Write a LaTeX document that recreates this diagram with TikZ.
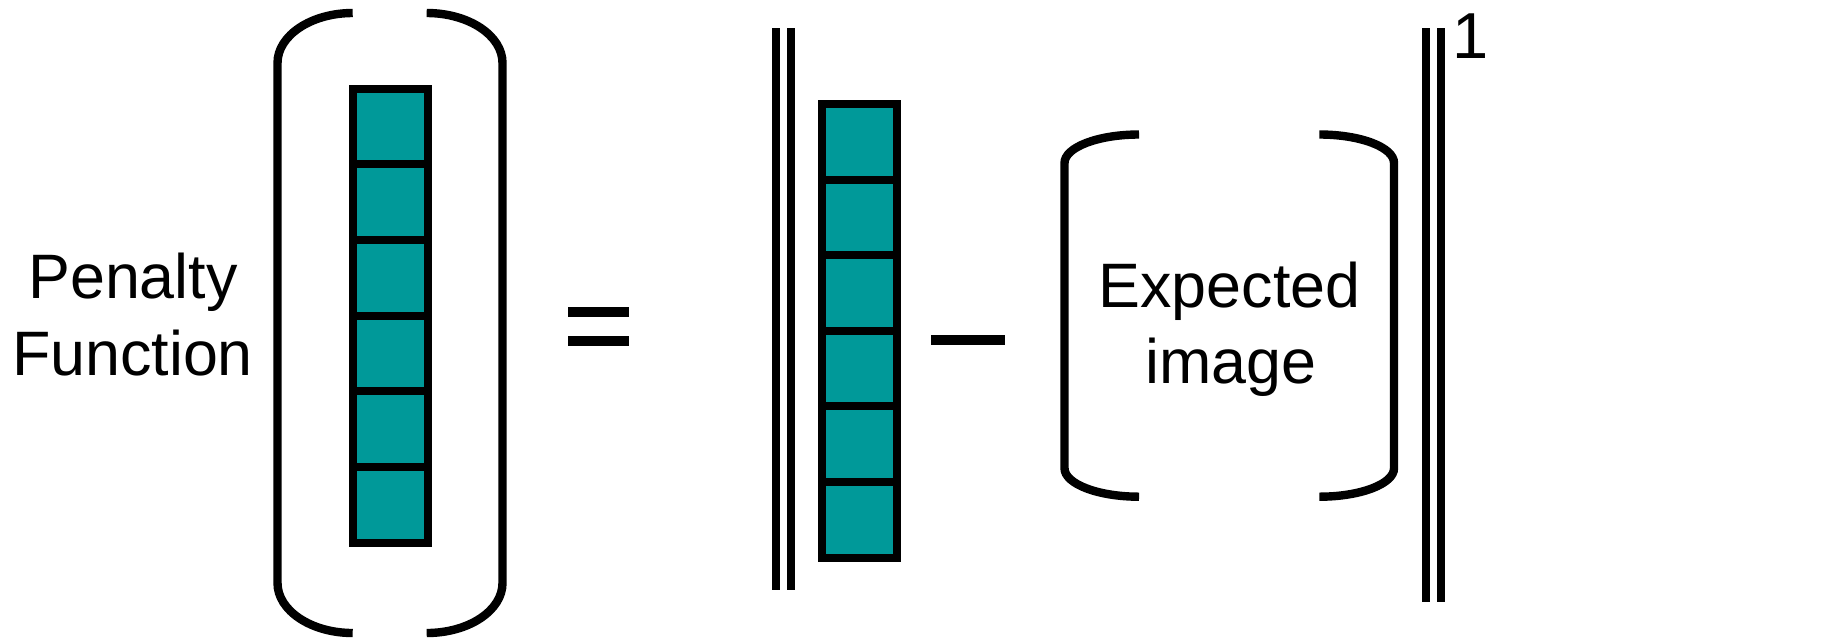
\documentclass[tikz,border=0pt]{standalone}
\usepackage{fontspec}
\setmainfont{Liberation Sans}
\definecolor{tealcell}{RGB}{0,153,153}
\tikzset{
  cellbox/.style={draw=black, fill=tealcell, line width=4pt},
  brack/.style={draw=black, line width=4.2pt, line cap=butt},
  bar/.style={draw=black, line width=4pt},
  opbar/.style={draw=black, line width=5pt},
  lbl/.style={anchor=base, inner sep=0pt, font=\fontsize{31.4}{36}\selectfont},
  sup/.style={anchor=base, inner sep=0pt, font=\fontsize{32.5}{38}\selectfont}
}
\begin{document}
\begin{tikzpicture}[x=0.5pt,y=-0.5pt]
\useasboundingbox (0,0) rectangle (1823,638);
% label
\node[lbl] (pen) at (133,298.8) {Penalty};
\node[lbl] (fun) at (132.5,375.5) {Function};
% left big bracket
\draw[brack] (352.7,13) .. controls (311.2,13) and (277.5,35.4) .. (277.5,63) -- (277.5,583) .. controls (277.5,610.6) and (311.2,633) .. (352.7,633);
\draw[brack] (426.7,13) .. controls (468.6,13) and (502.5,35.4) .. (502.5,63) -- (502.5,583) .. controls (502.5,610.6) and (468.6,633) .. (426.7,633);
% left vector
\foreach \i in {0,...,5}
  \draw[cellbox] ({353},{88.7+\i*75.67}) rectangle ++(75.3,75.67);
% equals
\draw[opbar] (568.3,311.6) -- (629,311.6);
\draw[opbar] (568.3,340.6) -- (629,340.6);
% left norm bars
\draw[bar] (776.2,28.3) -- (776.2,590);
\draw[bar] (790.7,28.3) -- (790.7,590);
% middle vector
\foreach \i in {0,...,5}
  \draw[cellbox] ({821.7},{104+\i*75.6}) rectangle ++(75.3,75.6);
% minus
\draw[opbar] (931,339.5) -- (1004.5,339.5);
% expected image brackets
\draw[brack] (1139,134.5) .. controls (1097.9,134.5) and (1064.5,147.3) .. (1064.5,163) -- (1064.5,468.2) .. controls (1064.5,483.9) and (1097.9,496.7) .. (1139,496.7);
\draw[brack] (1319.3,134.5) .. controls (1360.6,134.5) and (1394,147.3) .. (1394,163) -- (1394,468.2) .. controls (1394,483.9) and (1360.6,496.7) .. (1319.3,496.7);
\node[lbl] (exp) at (1229.5,307) {Expected};
\node[lbl] (img) at (1231,383.7) {image};
% right norm bars
\draw[bar] (1426.3,28.3) -- (1426.3,602);
\draw[bar] (1441.2,28.3) -- (1441.2,602);
\node[sup] (one) at (1470.5,58.3) {1};
\end{tikzpicture}
\end{document}
